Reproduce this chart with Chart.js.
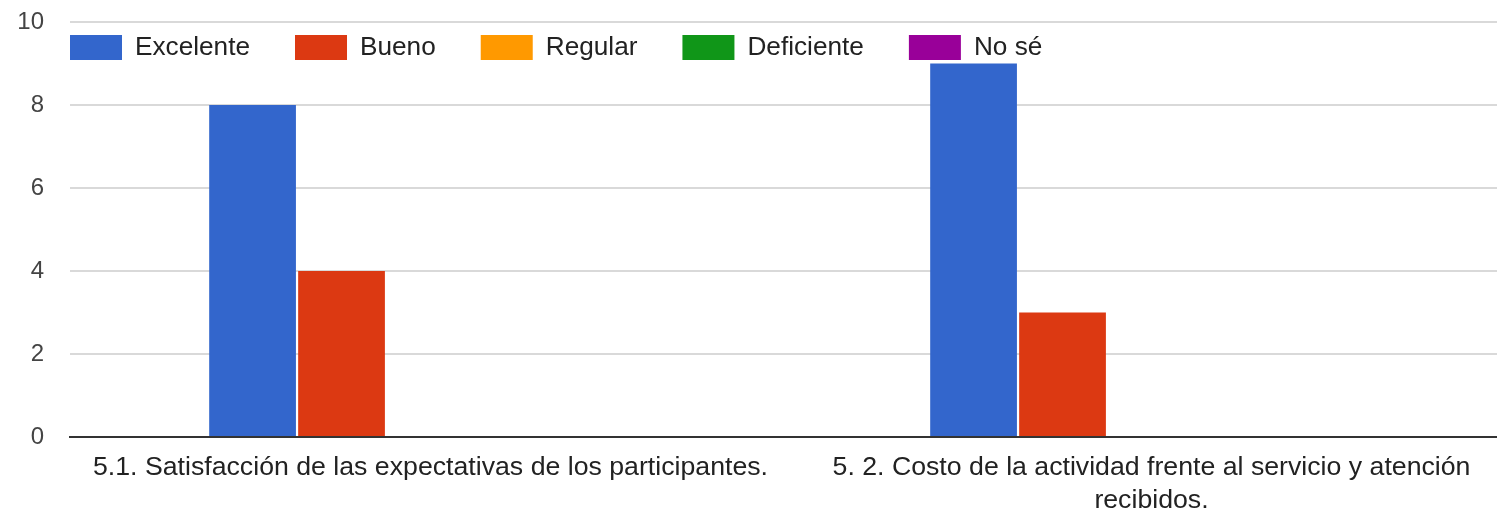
<!DOCTYPE html>
<html>
<head>
<meta charset="utf-8">
<script src="https://cdn.jsdelivr.net/npm/chart.js@4.4.0/dist/chart.umd.min.js"></script>
<style>
  body { margin: 0; background: #fff; }
  #wrap { width: 1497px; height: 516px; overflow: hidden; }
</style>
</head>
<body>
<div id="wrap"><canvas id="surveyChart" width="1512" height="516"></canvas></div>
<script>
// survey answers, two questions
const categories = [
    '5.1. Satisfacción de las expectativas de los participantes.',
    ['5. 2. Costo de la actividad frente al servicio y atención', 'recibidos.']
];
const seriesNames = ['Excelente', 'Bueno', 'Regular', 'Deficiente', 'No sé'];
const excelente = [8, 9];
const bueno = [4, 3];
const regular = [0, 0];
const deficiente = [0, 0];
const noSe = [0, 0];
const yTicks = [0, 2, 4, 6, 8, 10];

const colors = ['#3366cc', '#dc3912', '#ff9900', '#109618', '#990099'];
const seriesValues = [excelente, bueno, regular, deficiente, noSe];
const fontFamily = '"Liberation Sans", Arial, sans-serif';

// legend drawn inside the plot, like the Google Forms chart
const insideLegend = {
    id: 'insideLegend',
    afterDraw(chart) {
        const c = chart.ctx;
        let x = chart.chartArea.left;
        c.save();
        c.font = '26.2px ' + fontFamily;
        c.textBaseline = 'middle';
        chart.data.datasets.forEach(ds => {
            c.fillStyle = ds.backgroundColor;
            c.fillRect(x, 35, 52, 25);
            x += 52 + 13;
            c.fillStyle = '#222';
            c.fillText(ds.label, x, 48);
            x += c.measureText(ds.label).width + 45;
        });
        c.restore();
    }
};

const ctx = document.getElementById('surveyChart').getContext('2d');
const surveyChart = new Chart(ctx, {
    type: 'bar',
    data: {
        labels: categories,
        datasets: seriesNames.map((name, i) => ({
            label: name,
            data: seriesValues[i],
            backgroundColor: colors[i],
            borderWidth: 0,
            categoryPercentage: 0.617,
            barPercentage: 0.975
        }))
    },
    options: {
        responsive: false,
        animation: false,
        layout: { padding: { top: 22, right: 0, left: 0, bottom: 0 } },
        plugins: {
            legend: { display: false },
            tooltip: { enabled: false }
        },
        scales: {
            x: {
                grid: { display: false, drawTicks: false },
                border: { display: true, color: '#333', width: 2 },
                ticks: {
                    color: '#222',
                    padding: 14,
                    maxRotation: 0,
                    autoSkip: false,
                    font: { family: fontFamily, size: 26.7, lineHeight: 1.25 }
                },
                afterFit(scale) {
                    scale.height = 79;
                    scale.paddingLeft = 0;
                    scale.paddingRight = 0;
                }
            },
            y: {
                min: 0,
                max: 10,
                afterBuildTicks(scale) { scale.ticks = yTicks.map(v => ({ value: v })); },
                grid: {
                    drawTicks: false,
                    lineWidth: 2,
                    color: c => c.tick && c.tick.value === 0 ? 'rgba(0,0,0,0)' : '#d9d9d9'
                },
                border: { display: false },
                ticks: {
                    color: '#444',
                    padding: 26,
                    font: { family: fontFamily, size: 24 }
                },
                afterFit(scale) {
                    scale.width = 70;
                    scale.paddingTop = 0;
                    scale.paddingBottom = 0;
                }
            }
        }
    },
    plugins: [insideLegend]
});
</script>
</body>
</html>
